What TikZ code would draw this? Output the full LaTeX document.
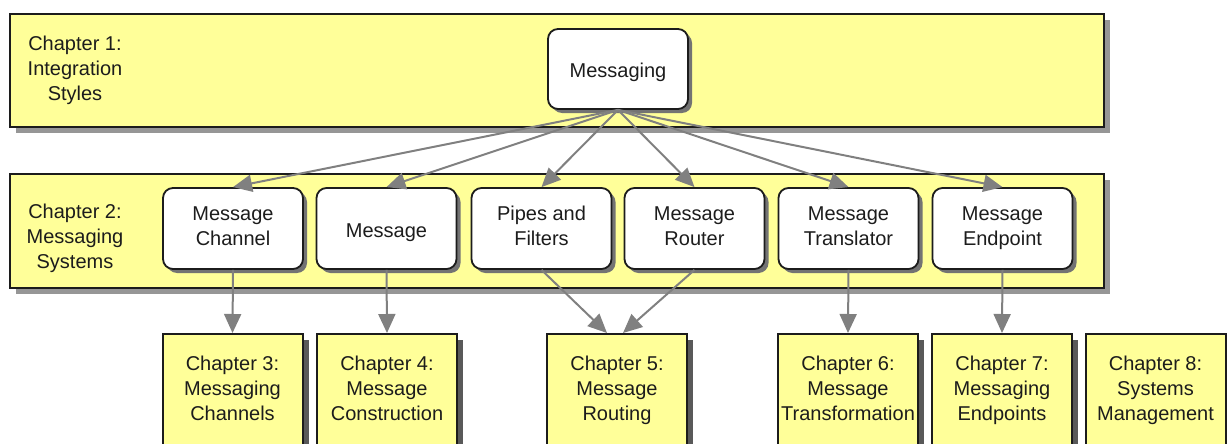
\documentclass[tikz,border=0pt]{standalone}
\usepackage{fontspec}
\setmainfont{Liberation Sans}
\usetikzlibrary{shadows,arrows.meta,calc}
\definecolor{bandyellow}{RGB}{255,255,153}
\definecolor{arrowgray}{RGB}{128,128,128}
\definecolor{shadowgray}{RGB}{150,150,150}
\definecolor{inkdark}{RGB}{28,28,28}
\newcommand\mytopstrut{\rule{0pt}{22pt}}
\newcommand\mybotstrut{\rule[-5pt]{0pt}{5pt}}
\begin{document}
\begin{tikzpicture}[x=1pt,y=-1pt,
  every node/.style={font=\fontsize{20}{25}\selectfont, text=inkdark},
  band/.style={draw=inkdark, line width=2pt, fill=bandyellow, anchor=north west,
    inner sep=0pt, minimum width=1094pt,
    drop shadow={shadow xshift=6pt, shadow yshift=-6pt, fill=shadowgray, opacity=1}},
  struts/.style={execute at begin node=\strut, execute at end node=\strut},
  boxstruts/.style={execute at begin node=\mytopstrut, execute at end node=\mybotstrut},
  rbox/.style={draw=inkdark, line width=1.8pt, fill=white, rounded corners=10pt,
    minimum width=140pt, minimum height=81pt, align=center, inner sep=0pt, boxstruts,
    drop shadow={shadow xshift=4pt, shadow yshift=-4pt, fill=black!55, opacity=1}},
  chbox/.style={draw=inkdark, line width=2pt, fill=bandyellow, anchor=north,
    minimum width=140pt, minimum height=130pt, inner sep=0pt,
    drop shadow={shadow xshift=6pt, shadow yshift=-6pt, fill=black!65, opacity=1}},
  chtext/.style={align=center, inner sep=0pt, struts},
  bottext/.style={chtext, anchor=north},
  arr/.style={draw=arrowgray, line width=2pt, -{Triangle[length=19pt,width=17pt]}}
]
\useasboundingbox (0,0) rectangle (1227,444);
\clip (0,0) rectangle (1227,444);
% bands
\node[band, minimum height=113pt] (band1) at (9,13) {};
\node[band, minimum height=114pt] (band2) at (9,173) {};
\node[chtext] (ch1label) at (75,72) {Chapter 1:\\Integration\\Styles};
\node[chtext] (ch2label) at (75,240) {Chapter 2:\\Messaging\\Systems};
% top box
\node[rbox, minimum height=80pt] (messaging) at (618,69) {Messaging};
% second row
\node[rbox] (channel) at (233,228.5) {Message\\Channel};
\node[rbox] (message) at (386.5,228.5) {Message};
\node[rbox] (pipes) at (541.5,228.5) {Pipes and\\Filters};
\node[rbox] (router) at (694.5,228.5) {Message\\Router};
\node[rbox] (translator) at (848.5,228.5) {Message\\Translator};
\node[rbox] (endpoint) at (1002.5,228.5) {Message\\Endpoint};
% chapter boxes
\node[chbox] (ch3) at (232.5,333) {};
\node[chbox] (ch4) at (387,333) {};
\node[chbox] (ch5) at (617,333) {};
\node[chbox] (ch6) at (848,333) {};
\node[chbox] (ch7) at (1002,333) {};
\node[chbox] (ch8) at (1155.5,333) {};
\node[bottext] (ch3t) at (232.5,356) {Chapter 3:\\Messaging\\Channels};
\node[bottext] (ch4t) at (387,356) {Chapter 4:\\Message\\Construction};
\node[bottext] (ch5t) at (617,356) {Chapter 5:\\Message\\Routing};
\node[bottext] (ch6t) at (848,356) {Chapter 6:\\Message\\Transformation};
\node[bottext] (ch7t) at (1002,356) {Chapter 7:\\Messaging\\Endpoints};
\node[bottext] (ch8t) at (1155.5,356) {Chapter 8:\\Systems\\Management};
% arrows from Messaging
\draw[arr] (messaging.south) -- (channel.north);
\draw[arr] (messaging.south) -- (message.north);
\draw[arr] (messaging.south) -- (pipes.north);
\draw[arr] (messaging.south) -- (router.north);
\draw[arr] (messaging.south) -- (translator.north);
\draw[arr] (messaging.south) -- (endpoint.north);
% arrows to chapters
\draw[arr] (channel.south) -- (ch3.north);
\draw[arr] (message.south) -- (ch4.north);
\draw[arr] (pipes.south) -- ($(ch5.north)+(-10,0)$);
\draw[arr] (router.south) -- ($(ch5.north)+(6,0)$);
\draw[arr] (translator.south) -- (ch6.north);
\draw[arr] (endpoint.south) -- (ch7.north);
\end{tikzpicture}
\end{document}
